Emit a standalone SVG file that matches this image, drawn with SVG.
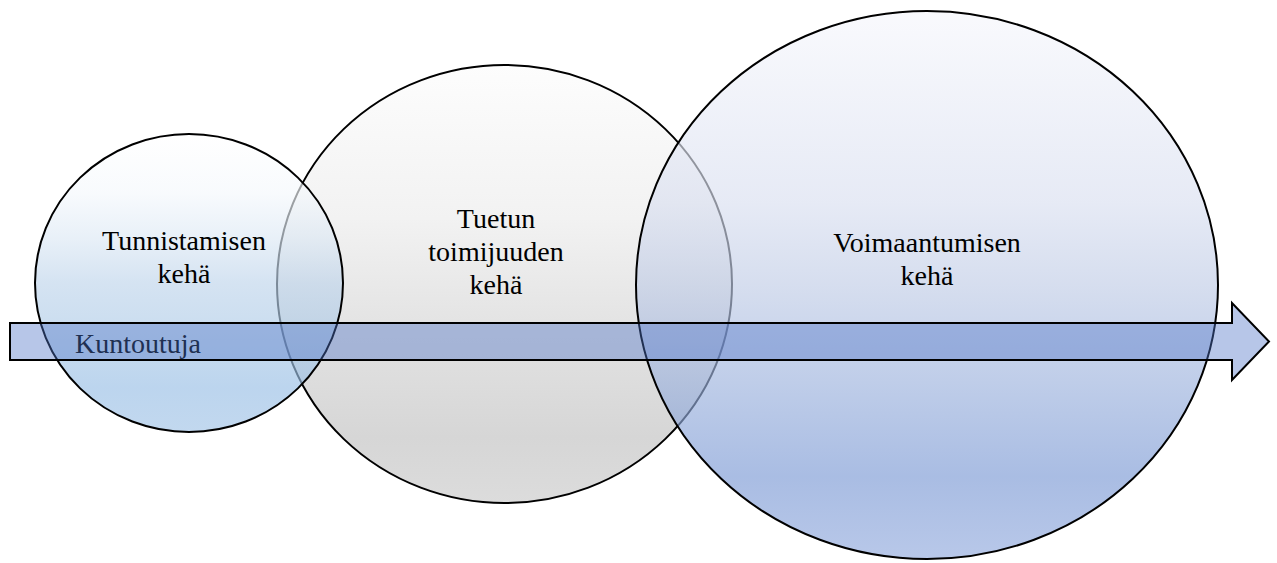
<svg xmlns="http://www.w3.org/2000/svg" width="1277" height="563" viewBox="0 0 1277 563">
  <defs>
    <!-- vertical shading for the three rings -->
    <linearGradient id="gradGrey" x1="0" y1="0" x2="0" y2="1">
      <stop offset="0" stop-color="#fdfdfd"/>
      <stop offset="0.35" stop-color="#f2f2f2"/>
      <stop offset="0.6" stop-color="#e3e3e3"/>
      <stop offset="0.85" stop-color="#d6d6d6"/>
      <stop offset="1" stop-color="#dcdcdc"/>
    </linearGradient>
    <linearGradient id="gradSky" x1="0" y1="0" x2="0" y2="1">
      <stop offset="0" stop-color="#ffffff"/>
      <stop offset="0.2" stop-color="#f4f8fc"/>
      <stop offset="0.35" stop-color="#dce8f4"/>
      <stop offset="0.5" stop-color="#bed4eb"/>
      <stop offset="0.7" stop-color="#aac9e6"/>
      <stop offset="0.85" stop-color="#98bee5"/>
      <stop offset="1" stop-color="#a1c3e6"/>
    </linearGradient>
    <linearGradient id="gradBlue" x1="0" y1="0" x2="0" y2="1">
      <stop offset="0" stop-color="#f6f7fc"/>
      <stop offset="0.35" stop-color="#d9dff0"/>
      <stop offset="0.5" stop-color="#c0cce6"/>
      <stop offset="0.7" stop-color="#98afdc"/>
      <stop offset="0.85" stop-color="#7b99d4"/>
      <stop offset="1" stop-color="#92aadd"/>
    </linearGradient>
  </defs>
  <style>
    .ring { stroke: #000; stroke-width: 2; }
    .translucent { fill-opacity: 0.65; }
    .label { font-family: 'Liberation Serif', 'Times New Roman', serif; font-size: 28px; fill: #000; text-anchor: middle; }
    .flow { fill: #4f74c7; fill-opacity: 0.41; stroke: #000; stroke-width: 2; stroke-linejoin: miter; }
    .flow-label { font-family: 'Liberation Serif', 'Times New Roman', serif; font-size: 28px; fill: #203052; }
  </style>

  <rect width="1277" height="563" fill="#ffffff"/>

  <!-- middle ring sits at the back -->
  <g id="node-tuettu-toimijuus">
    <ellipse class="ring" cx="504.5" cy="284" rx="227.5" ry="219" fill="url(#gradGrey)"/>
    <text class="label" x="496" y="228">Tuetun</text>
    <text class="label" x="496" y="261">toimijuuden</text>
    <text class="label" x="496" y="294">kehä</text>
  </g>

  <g id="node-tunnistaminen">
    <ellipse class="ring translucent" cx="189" cy="283" rx="154" ry="149" fill="url(#gradSky)"/>
    <text class="label" x="184" y="250">Tunnistamisen</text>
    <text class="label" x="184" y="283">kehä</text>
  </g>

  <g id="node-voimaantuminen">
    <ellipse class="ring translucent" cx="927" cy="285" rx="291" ry="274" fill="url(#gradBlue)"/>
    <text class="label" x="927" y="252">Voimaantumisen</text>
    <text class="label" x="927" y="285">kehä</text>
  </g>

  <!-- the rehabilitee's path running through all rings -->
  <g id="connectors">
    <g id="kuntoutuja-arrow">
      <path class="flow" d="M10,323 H1232 V303 L1269,341.5 L1232,380 V360 H10 Z"/>
      <text class="flow-label" x="75" y="353">Kuntoutuja</text>
    </g>
  </g>
</svg>
